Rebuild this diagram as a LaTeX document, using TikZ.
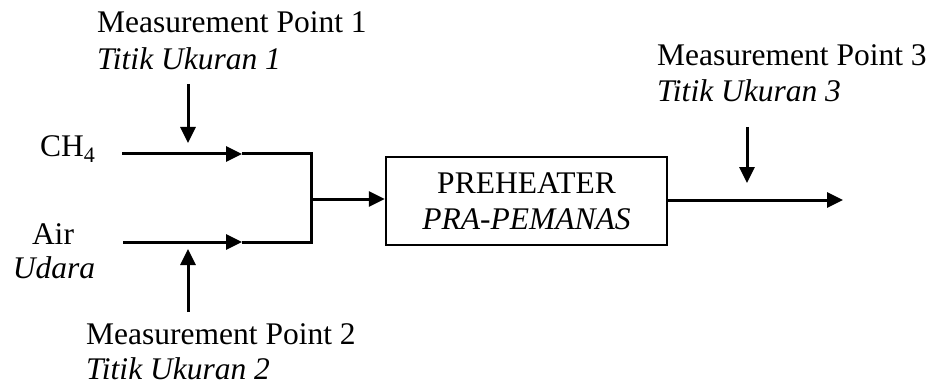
\documentclass[tikz,border=0pt]{standalone}
\usepackage{fontspec}
\setmainfont{Liberation Serif}
\usetikzlibrary{arrows.meta}
\begin{document}
\begin{tikzpicture}[x=1pt,y=-1pt,
  lbl/.style={inner sep=0pt,font=\fontsize{31.5}{37}\selectfont},
  flow/.style={line width=3pt,-{Triangle[length=16pt,width=15pt]}},
  plain/.style={line width=3pt},
  boxstyle/.style={draw,line width=2.5pt,minimum width=281pt,minimum height=88pt,inner sep=0pt,align=center,font=\fontsize{31.5}{36}\selectfont}]
\useasboundingbox (0,0) rectangle (929,385);
% labels
\node[lbl,anchor=base west] (mp1a) at (97,33) {Measurement Point 1};
\node[lbl,anchor=base west] (mp1b) at (97,70) {\textit{Titik Ukuran 1}};
\node[lbl,anchor=base west] (mp2a) at (86,344) {Measurement Point 2};
\node[lbl,anchor=base west] (mp2b) at (86,379) {\textit{Titik Ukuran 2}};
\node[lbl,anchor=base west] (mp3a) at (657,66) {Measurement Point 3};
\node[lbl,anchor=base west] (mp3b) at (657,102) {\textit{Titik Ukuran 3}};
\node[lbl,anchor=base west] (ch4) at (40,157) {CH\textsubscript{4}};
\node[lbl,anchor=base] (air) at (53,244) {Air};
\node[lbl,anchor=base] (udara) at (54,278) {\textit{Udara}};
% box
\node[boxstyle] (pre) at (526.5,201) {PREHEATER\\\textit{PRA-PEMANAS}};
% coordinates
\coordinate (a1s) at (188,84);
\coordinate (a1e) at (188,143);
\coordinate (a2s) at (188,312);
\coordinate (a2e) at (188,249);
\coordinate (a3s) at (747,127);
\coordinate (a3e) at (747,183);
\coordinate (c1s) at (122,154);
\coordinate (c1e) at (242,154);
\coordinate (c2s) at (123,242);
\coordinate (c2e) at (242,242);
\coordinate (jt) at (311,154);
\coordinate (jb) at (311,242);
\coordinate (jm) at (311,199);
\coordinate (oe) at (843,200);
% connectors
\draw[flow] (a1s) -- (a1e);
\draw[flow] (a2s) -- (a2e);
\draw[flow] (a3s) -- (a3e);
\draw[flow] (c1s) -- (c1e);
\draw[flow] (c2s) -- (c2e);
\draw[plain] (c1e) -- (jt) -- (jb) -- (c2e);
\draw[flow] (jm) -- (jm -| pre.west);
\draw[flow] (oe -| pre.east) -- (oe);
\end{tikzpicture}
\end{document}
